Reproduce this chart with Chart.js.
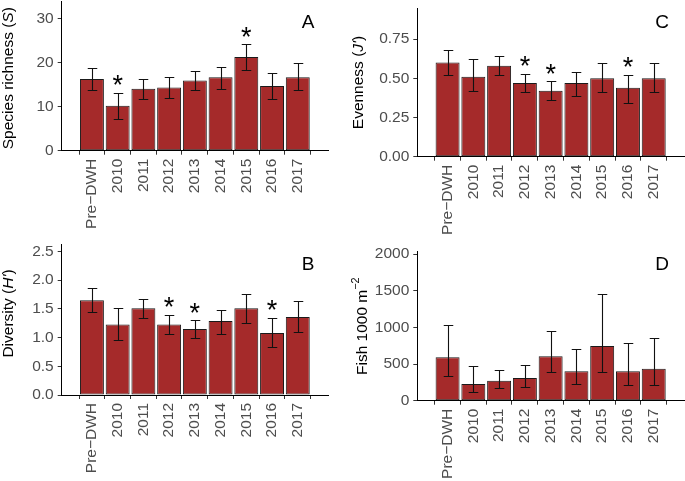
<!DOCTYPE html>
<html>
<head>
<meta charset="utf-8">
<script src="https://cdn.jsdelivr.net/npm/chart.js@4.4.0/dist/chart.umd.min.js"></script>
<style>
    body { margin: 0; background: #fff; }
    canvas { position: absolute; }
</style>
</head>
<body>
<canvas id="chartA" width="342" height="240" style="left:0;top:0"></canvas>
<canvas id="chartC" width="343" height="240" style="left:342px;top:0"></canvas>
<canvas id="chartB" width="342" height="241" style="left:0;top:240px"></canvas>
<canvas id="chartD" width="343" height="241" style="left:342px;top:240px"></canvas>
<script>
const categories = ['Pre\u2212DWH', '2010', '2011', '2012', '2013', '2014', '2015', '2016', '2017'];

// A: species richness
const richness = [16.3, 10.2, 14.1, 14.4, 16.0, 16.7, 21.3, 14.7, 16.7];
const richnessLow = [13.7, 7.2, 11.8, 11.9, 13.7, 14.1, 18.4, 11.7, 13.8];
const richnessHigh = [18.8, 13.1, 16.4, 16.7, 18.2, 19.1, 24.2, 17.7, 19.9];
const richnessSig = [false, true, false, false, false, false, true, false, false];
const richnessTicks = [0, 10, 20, 30];

// B: diversity
const diversity = [1.65, 1.23, 1.51, 1.23, 1.15, 1.29, 1.51, 1.08, 1.36];
const diversityLow = [1.44, 0.95, 1.34, 1.06, 0.99, 1.06, 1.25, 0.83, 1.10];
const diversityHigh = [1.86, 1.51, 1.67, 1.40, 1.30, 1.48, 1.76, 1.34, 1.64];
const diversitySig = [false, false, false, true, true, false, false, true, false];
const diversityTicks = [0, 0.5, 1.0, 1.5, 2.0, 2.5];

// C: evenness
const evenness = [0.60, 0.51, 0.58, 0.47, 0.42, 0.47, 0.50, 0.44, 0.50];
const evennessLow = [0.52, 0.42, 0.52, 0.41, 0.36, 0.39, 0.41, 0.34, 0.41];
const evennessHigh = [0.68, 0.62, 0.64, 0.53, 0.48, 0.54, 0.60, 0.52, 0.60];
const evennessSig = [false, false, false, true, true, false, false, true, false];
const evennessTicks = [0, 0.25, 0.50, 0.75];

// D: fish density
const density = [592, 228, 273, 310, 605, 401, 746, 401, 436];
const densityLow = [333, 119, 177, 191, 387, 228, 387, 218, 218];
const densityHigh = [1036, 473, 419, 487, 950, 705, 1455, 791, 851];
const densitySig = [false, false, false, false, false, false, false, false, false];
const densityTicks = [0, 500, 1000, 1500, 2000];

const FONT = "'Liberation Sans', Arial, sans-serif";
const BAR_COLOR = '#a52a2a';

// error bars, asterisks, panel letter and y title drawn through the chart scales
const panelExtras = {
    id: 'panelExtras',
    afterDatasetsDraw(chart, args, opts) {
        const ctx = chart.ctx;
        const xs = chart.scales.x;
        const ys = chart.scales.y;
        const step = xs.getPixelForValue(2) - xs.getPixelForValue(1);
        const cap = step * 0.185;

        ctx.save();
        ctx.strokeStyle = '#111';
        ctx.lineWidth = 1.1;
        opts.low.forEach(function (lo, i) {
            const x = Math.round(xs.getPixelForValue(i + 1)) + 0.5;
            const yLo = Math.round(ys.getPixelForValue(lo)) + 0.5;
            const yHi = Math.round(ys.getPixelForValue(opts.high[i])) + 0.5;
            ctx.beginPath();
            ctx.moveTo(x, yLo);
            ctx.lineTo(x, yHi);
            ctx.moveTo(x - cap, yLo);
            ctx.lineTo(x + cap, yLo);
            ctx.moveTo(x - cap, yHi);
            ctx.lineTo(x + cap, yHi);
            ctx.stroke();
        });

        ctx.fillStyle = '#000';
        ctx.textAlign = 'center';
        ctx.textBaseline = 'alphabetic';
        ctx.font = '27px ' + FONT;
        opts.sig.forEach(function (s, i) {
            if (!s) return;
            const x = xs.getPixelForValue(i + 1);
            const yc = ys.getPixelForValue(opts.high[i]) - 14;
            ctx.fillText('*', x, yc + 15.3);
        });

        ctx.font = '19px ' + FONT;
        ctx.textBaseline = 'middle';
        ctx.fillText(opts.letter, chart.chartArea.right - opts.letterDx, chart.chartArea.top + opts.letterDy);

        // y axis title with italic / superscript parts
        const size = 15.5;
        const parts = opts.title.map(function (p) {
            const fs = p.sup ? size * 0.7 : size;
            const f = (p.italic ? 'italic ' : '') + fs + 'px ' + FONT;
            ctx.font = f;
            return { text: p.text, font: f, w: ctx.measureText(p.text).width, sup: p.sup };
        });
        const total = parts.reduce((a, p) => a + p.w, 0);
        ctx.translate(opts.titleX, (chart.chartArea.top + chart.chartArea.bottom) / 2 + (opts.titleDy || 0));
        ctx.rotate(-Math.PI / 2);
        ctx.textAlign = 'left';
        ctx.textBaseline = 'middle';
        let cx = -total / 2;
        parts.forEach(function (p) {
            ctx.font = p.font;
            ctx.fillText(p.text, cx, p.sup ? -size * 0.42 : 0);
            cx += p.w;
        });
        ctx.restore();
    }
};

function makePanel(id, cfg) {
    const el = document.getElementById(id);
    return new Chart(el.getContext('2d'), {
        type: 'bar',
        data: {
            datasets: [{
                data: cfg.values.map((v, i) => ({ x: i + 1, y: v })),
                backgroundColor: BAR_COLOR,
                borderColor: '#1a1a1a',
                borderWidth: 1,
                borderSkipped: false,
                categoryPercentage: 0.93,
                barPercentage: 1.0
            }]
        },
        options: {
            responsive: false,
            animation: false,
            layout: { padding: { top: cfg.padTop, right: cfg.padRight, left: 0, bottom: 0 } },
            plugins: {
                legend: { display: false },
                tooltip: { enabled: false },
                panelExtras: {
                    low: cfg.low, high: cfg.high, sig: cfg.sig,
                    letter: cfg.letter, letterDx: cfg.letterDx, letterDy: cfg.letterDy,
                    title: cfg.title, titleX: cfg.titleX, titleDy: cfg.titleDy
                }
            },
            scales: {
                x: {
                    type: 'linear',
                    min: 0.4,
                    max: 9.6,
                    border: { display: true, color: '#000', width: 1 },
                    grid: { drawOnChartArea: false, tickLength: 4, tickColor: '#333' },
                    ticks: {
                        autoSkip: false,
                        minRotation: 90,
                        maxRotation: 90,
                        padding: 4,
                        color: '#4d4d4d',
                        font: { family: FONT, size: 15.5 },
                        callback: v => categories[v - 1]
                    },
                    afterBuildTicks: s => { s.ticks = categories.map((c, i) => ({ value: i + 1 })); },
                    afterFit: s => { s.height = cfg.xHeight; s.paddingLeft = 0; s.paddingRight = 0; }
                },
                y: {
                    min: 0,
                    max: cfg.yMax,
                    border: { display: true, color: '#000', width: 1 },
                    grid: { drawOnChartArea: false, tickLength: 4, tickColor: '#333' },
                    ticks: {
                        padding: 4,
                        color: '#4d4d4d',
                        font: { family: FONT, size: 15.5 },
                        callback: v => v.toFixed(cfg.decimals)
                    },
                    afterBuildTicks: s => { s.ticks = cfg.ticks.map(v => ({ value: v })); },
                    afterFit: s => { s.width = cfg.yWidth; s.paddingTop = 0; s.paddingBottom = 0; }
                }
            }
        },
        plugins: [panelExtras]
    });
}

makePanel('chartA', {
    values: richness, low: richnessLow, high: richnessHigh, sig: richnessSig,
    ticks: richnessTicks, decimals: 0, yMax: 33.9,
    title: [{ text: 'Species richness (' }, { text: 'S', italic: true }, { text: ')' }],
    letter: 'A', letterDx: 20, letterDy: 21,
    yWidth: 61.7, xHeight: 89.3, padTop: 1.7, padRight: 14, titleX: 9, titleDy: 2
});

makePanel('chartB', {
    values: diversity, low: diversityLow, high: diversityHigh, sig: diversitySig,
    ticks: diversityTicks, decimals: 1, yMax: 2.63,
    title: [{ text: 'Diversity (' }, { text: "H'", italic: true }, { text: ')' }],
    letter: 'B', letterDx: 20, letterDy: 20.3,
    yWidth: 61.7, xHeight: 86, padTop: 4, padRight: 14, titleX: 9, titleDy: -6
});

makePanel('chartC', {
    values: evenness, low: evennessLow, high: evennessHigh, sig: evennessSig,
    ticks: evennessTicks, decimals: 2, yMax: 0.946,
    title: [{ text: 'Evenness (' }, { text: "J'", italic: true }, { text: ')' }],
    letter: 'C', letterDx: 22, letterDy: 14,
    yWidth: 75.3, xHeight: 83.3, padTop: 8.3, padRight: 1, titleX: 16.3, titleDy: 0
});

makePanel('chartD', {
    values: density, low: densityLow, high: densityHigh, sig: densitySig,
    ticks: densityTicks, decimals: 0, yMax: 2032,
    title: [{ text: 'Fish 1000 m' }, { text: '\u22122', sup: true }],
    letter: 'D', letterDx: 22, letterDy: 12.6,
    yWidth: 75.3, xHeight: 80.3, padTop: 11.7, padRight: 1, titleX: 21, titleDy: 0
});
</script>
</body>
</html>
